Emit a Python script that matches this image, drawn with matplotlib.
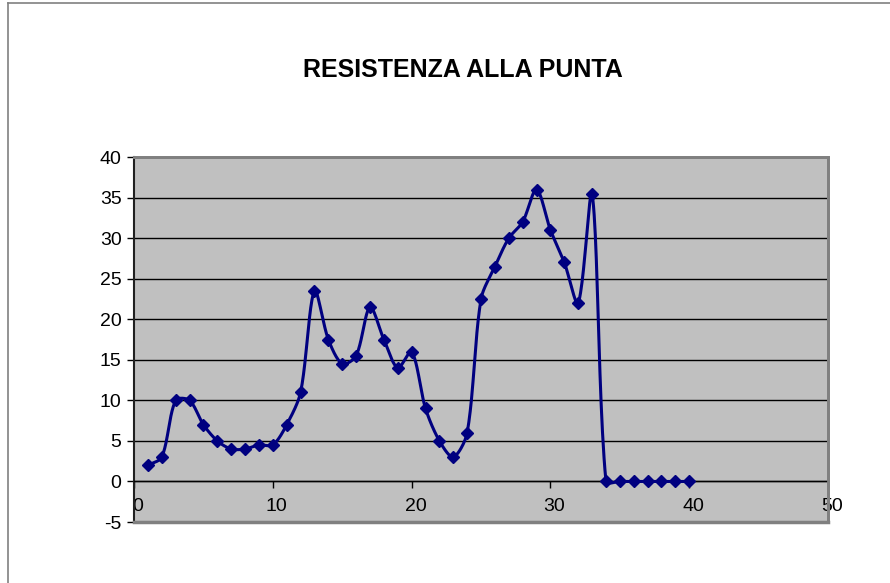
import numpy as np
import matplotlib
matplotlib.use("Agg")
import matplotlib.pyplot as plt
import matplotlib.transforms as mtransforms
from matplotlib.lines import Line2D

plt.rcParams['font.family'] = ['Liberation Sans', 'DejaVu Sans']

# data
depth = list(range(1, 41))
resist = [2, 3, 10, 10, 7, 5, 4, 4, 4.5, 4.5,
          7, 11, 23.5, 17.5, 14.5, 15.5, 21.5, 17.5, 14, 16,
          9, 5, 3, 6, 22.5, 26.5, 30, 32, 36, 31,
          27, 22, 35.5, 0, 0, 0, 0, 0, 0, 0]
title = "RESISTENZA ALLA PUNTA"
xticks = [0, 10, 20, 30, 40, 50]
yticks = [-5, 0, 5, 10, 15, 20, 25, 30, 35, 40]


def smooth(x, y, sx=13.9, sy=8.1, f=0.3, n=24):
	# bezier through the points, tangents weighted by chord length (close to excel)
	p = np.column_stack([np.asarray(x, float) * sx, np.asarray(y, float) * sy])
	p = np.vstack([p[0], p, p[-1]])
	out = []
	t = np.linspace(0, 1, n)[:, None]
	for i in range(1, len(p) - 2):
		p0, p1, p2, p3 = p[i - 1], p[i], p[i + 1], p[i + 2]
		d01 = np.hypot(*(p1 - p0))
		d12 = np.hypot(*(p2 - p1))
		d23 = np.hypot(*(p3 - p2))
		w1 = d12 / (d01 + d12) if d01 + d12 > 0 else 0
		w2 = d12 / (d12 + d23) if d12 + d23 > 0 else 0
		c1 = p1 + (p2 - p0) * f * w1
		c2 = p2 - (p3 - p1) * f * w2
		b = (1 - t) ** 3 * p1 + 3 * (1 - t) ** 2 * t * c1 + 3 * (1 - t) * t ** 2 * c2 + t ** 3 * p2
		out.append(b)
	out = np.vstack(out)
	return out[:, 0] / sx, out[:, 1] / sy


fig = plt.figure(figsize=(8.9, 5.83), dpi=100)
# chart border, only the top and left edges are inside the picture
fig.lines.append(Line2D([7.5 / 890, 7.5 / 890], [0, 1 - 3 / 583], transform=fig.transFigure,
	color='#808080', linewidth=1.2))
fig.lines.append(Line2D([7.5 / 890, 1], [1 - 3 / 583, 1 - 3 / 583], transform=fig.transFigure,
	color='#808080', linewidth=1.2))

ax = fig.add_axes([0.1506, 0.1046, 0.7798, 0.626])
ax.set_facecolor('#c0c0c0')
ax.set_xlim(0, 50)
ax.set_ylim(-5, 40)

for yv in yticks[1:-1]:
	ax.axhline(yv, color='black', linewidth=1, zorder=1)

sx, sy = smooth(depth, resist)
ax.plot(sx, sy, color='#000080', linewidth=2.2, zorder=3)
ax.plot(depth, resist, linestyle='none', marker='D', markersize=6,
	color='#000080', zorder=4)

for s in ['top', 'right']:
	ax.spines[s].set_color('#808080')
	ax.spines[s].set_linewidth(2)
ax.spines['left'].set_color('#202020')
ax.spines['left'].set_linewidth(1.5)
ax.spines['bottom'].set_position(('data', 0))
ax.spines['bottom'].set_color('black')
ax.spines['bottom'].set_linewidth(1)
ax.add_line(Line2D([0, 1, 1], [1, 1, 0], transform=ax.transAxes, color='#808080',
	linewidth=2, zorder=5, clip_on=False))
ax.add_line(Line2D([0, 1], [0, 0], transform=ax.transAxes, color='#808080',
	linewidth=2.5, zorder=5, clip_on=False))

ax.set_xticks(xticks)
ax.set_yticks(yticks)
ax.set_xticklabels([str(v) for v in xticks])
ax.set_yticklabels([str(v) for v in yticks])
ax.tick_params(axis='both', direction='out', length=5, width=1, color='black',
	labelsize=14, labelcolor='black')
ax.tick_params(axis='x', pad=7)
ax.tick_params(axis='y', pad=4)
# excel puts the x labels a little right of the tick
shift = mtransforms.ScaledTranslation(4 / 100, 0, fig.dpi_scale_trans)
for lab in ax.get_xticklabels():
	lab.set_transform(lab.get_transform() + shift)

fig.text(0.52, 0.88, title, ha='center', va='center', fontsize=18, fontweight='bold')

fig.savefig('out.png', dpi=100)
